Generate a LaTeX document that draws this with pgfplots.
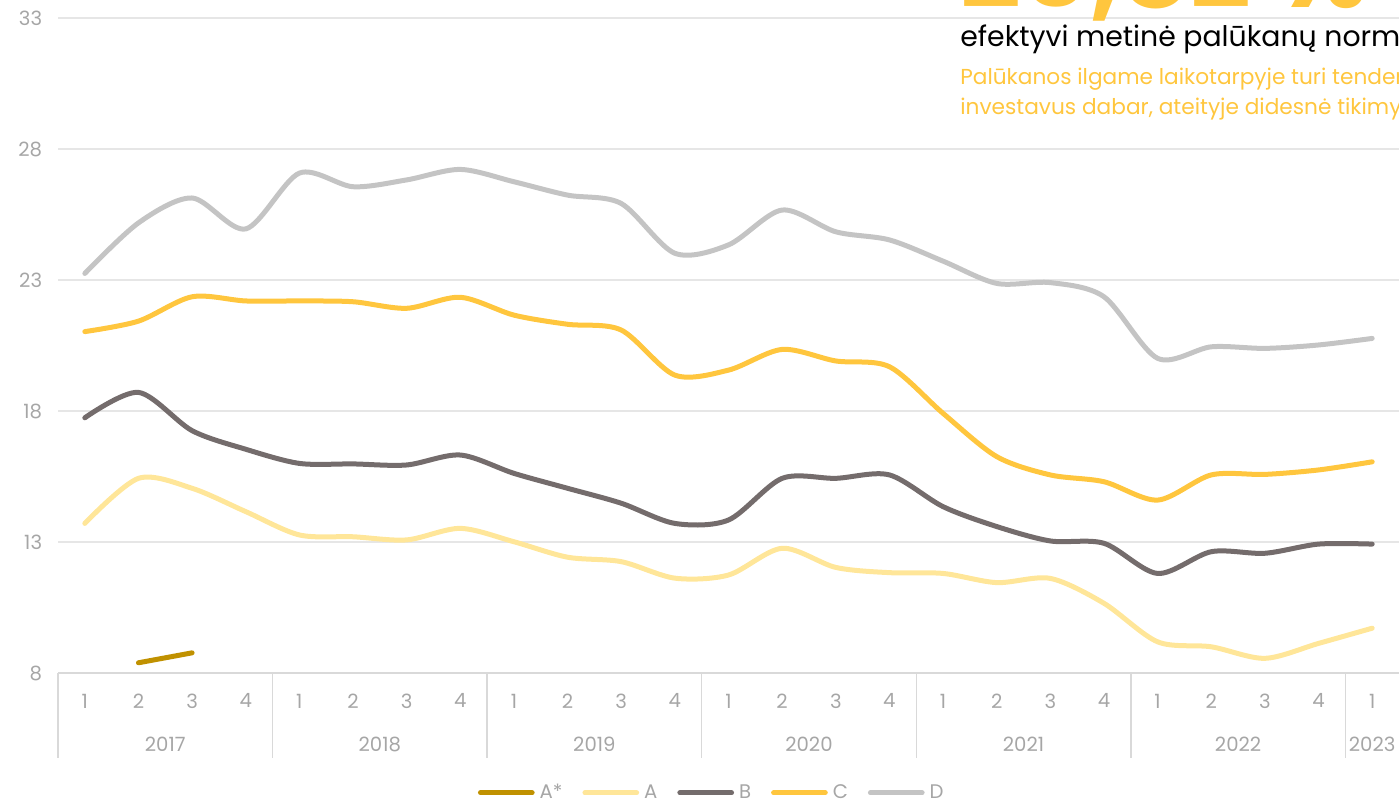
\documentclass[border=0pt]{standalone}
\usepackage{pgfplots}
\pgfplotsset{compat=1.18}
\usepackage{pgfplotstable}
\usepackage{fontspec}
\setmainfont{Poppins}

\definecolor{cAs}{HTML}{C09100}
\definecolor{cA}{HTML}{FFE699}
\definecolor{cB}{HTML}{746C6C}
\definecolor{cC}{HTML}{FFC63E}
\definecolor{cD}{HTML}{C4C4C4}
\definecolor{tickgray}{HTML}{A6A6A6}
\definecolor{gridgray}{HTML}{E6E6E6}
\definecolor{axisgray}{HTML}{D9D9D9}

% quarter index 0 = 2017 Q1 ... 24 = 2023 Q1
\pgfplotstableread{
q  A      B      C      D
0  13.71  17.74  21.03  23.25
1  15.43  18.71  21.43  25.18
2  15.05  17.25  22.36  26.13
3  14.16  16.54  22.20  24.95
4  13.27  16.00  22.20  27.08
5  13.20  15.98  22.17  26.56
6  13.08  15.94  21.92  26.82
7  13.52  16.32  22.34  27.22
8  13.01  15.62  21.66  26.75
9  12.42  15.05  21.31  26.24
10 12.25  14.48  21.09  25.92
11 11.62  13.71  19.37  24.02
12 11.74  13.84  19.56  24.34
13 12.76  15.43  20.35  25.67
14 12.03  15.43  19.91  24.84
15 11.83  15.56  19.69  24.53
16 11.80  14.35  17.91  23.72
17 11.45  13.59  16.26  22.87
18 11.61  13.04  15.56  22.90
19 10.66  12.95  15.30  22.36
20  9.19  11.80  14.60  20.01
21  9.00  12.63  15.56  20.45
22  8.56  12.57  15.58  20.39
23  9.13  12.92  15.75  20.52
24  9.71  12.92  16.06  20.77
}\rates

\begin{document}
\begin{tikzpicture}
\begin{axis}[
  scale only axis, width=804.6pt, height=393pt,
  at={(0,0)}, anchor=south west,
  xmin=-0.5, xmax=24.5, ymin=8, ymax=33,
  clip=false,
  axis x line*=bottom, axis y line*=left,
  x axis line style={draw=axisgray, line width=0.9pt},
  y axis line style={draw=none},
  xtick={0,...,24},
  xticklabels={1,2,3,4,1,2,3,4,1,2,3,4,1,2,3,4,1,2,3,4,1,2,3,4,1},
  ytick={8,13,18,23,28,33},
  ymajorgrids, grid style={gridgray, line width=0.9pt},
  major tick length=0pt,
  tick style={draw=none},
  /pgf/number format/assume math mode=true,
  tick label style={font=\fontsize{11.8}{14}\selectfont, text=tickgray},
  xticklabel style={yshift=-9pt},
  yticklabel style={xshift=-6pt},
  legend style={at={(0.488,-0.183)}, anchor=center, draw=none,
    font=\fontsize{11.8}{14}\selectfont, text=tickgray,
    legend columns=-1, inner sep=0pt,
    /tikz/every odd column/.append style={column sep=1pt},
    /tikz/every even column/.append style={column sep=10pt}},
  legend image code/.code={\draw[#1, line cap=round] (0pt,0pt) -- (31pt,0pt);},
  every axis plot/.append style={line width=3pt, line cap=round, line join=round},
]
\addplot[cAs] coordinates {(1,8.39) (2,8.77)};
\addplot[cA, smooth, tension=0.5] table[x=q, y=A] {\rates};
\addplot[cB, smooth, tension=0.5] table[x=q, y=B] {\rates};
\addplot[cC, smooth, tension=0.5] table[x=q, y=C] {\rates};
\addplot[cD, smooth, tension=0.5] table[x=q, y=D] {\rates};
\legend{A*, A, B, C, D}

% year separators and labels
\pgfplotsinvokeforeach{-0.5,3.5,7.5,11.5,15.5,19.5,23.5}{
  \draw[axisgray, line width=0.9pt] (axis cs:#1,8) -- ([yshift=-51pt]axis cs:#1,8);
}
\tikzset{yearlbl/.style={text=tickgray, font=\fontsize{11.8}{14}\selectfont}}
\node[yearlbl] at ([yshift=-43pt]axis cs:1.5,8) {2017};
\node[yearlbl] at ([yshift=-43pt]axis cs:5.5,8) {2018};
\node[yearlbl] at ([yshift=-43pt]axis cs:9.5,8) {2019};
\node[yearlbl] at ([yshift=-43pt]axis cs:13.5,8) {2020};
\node[yearlbl] at ([yshift=-43pt]axis cs:17.5,8) {2021};
\node[yearlbl] at ([yshift=-43pt]axis cs:21.5,8) {2022};
\node[yearlbl, inner sep=0pt] at ([yshift=-43pt]axis cs:24,8) {2023};
\end{axis}

% overlay text at the top right
\node[anchor=base west, text=cC, font=\fontsize{64}{64}\selectfont\bfseries, inner sep=0pt]
  at (541.2pt,399pt) {20,82 \%};
\node[anchor=base west, text=black, font=\fontsize{17}{20}\selectfont, inner sep=0pt]
  at (541.2pt,375.6pt) {efektyvi metinė palūkanų norma};
\node[anchor=base west, text=cC, font=\fontsize{13}{16}\selectfont, inner sep=0pt]
  at (541.2pt,352.8pt) {Palūkanos ilgame laikotarpyje turi tendenciją kisti, todėl};
\node[anchor=base west, text=cC, font=\fontsize{13}{16}\selectfont, inner sep=0pt]
  at (541.2pt,334.8pt) {investavus dabar, ateityje didesnė tikimybė gauti daugiau};

\pgfresetboundingbox
\useasboundingbox (-34.8pt,-78pt) rectangle (804.6pt,403.8pt);
\end{tikzpicture}
\end{document}
